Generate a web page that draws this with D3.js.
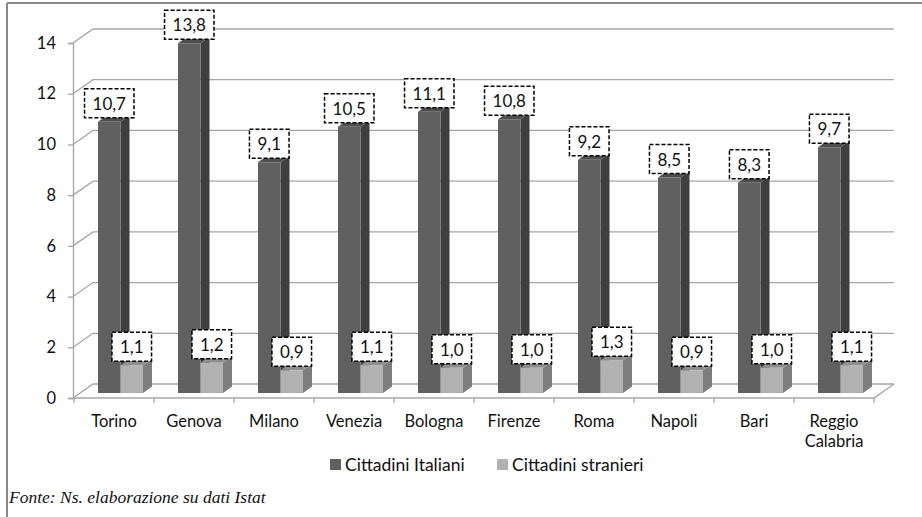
<!DOCTYPE html>
<html><head><meta charset="utf-8">
<script src="https://cdn.jsdelivr.net/npm/d3@7"></script>
<style>
html,body{margin:0;padding:0;background:#fff;}
svg{display:block;}
text{font-family:Lato,"Open Sans",sans-serif;}
</style></head>
<body>
<svg id="chart" width="922" height="517"></svg>
<script>
const categories = ["Torino","Genova","Milano","Venezia","Bologna","Firenze","Roma","Napoli","Bari","Reggio Calabria"];
const italiani = [10.7,13.8,9.1,10.5,11.1,10.8,9.2,8.5,8.3,9.7];
const stranieri = [1.1,1.2,0.9,1.1,1.0,1.0,1.3,0.9,1.0,1.1];
const seriesNames = ["Cittadini Italiani","Cittadini stranieri"];
const yTicks = [0,2,4,6,8,10,12,14];
const source = "Fonte: Ns. elaborazione su dati Istat";

const svg = d3.select("#chart");
const fmt = v => d3.format(".1f")(v).replace(".", ",");

// projection
const DX = 20, DY = -14;
const x = d3.scaleBand().domain(categories).range([74, 874]);
const y = d3.scaleLinear().domain([0, 14]).range([398, 43]);
const proj = (px, v, z) => [px + DX * z, y(v) + DY * z];

// frame
svg.append("line").attr("x1", 7).attr("x2", 922).attr("y1", 3).attr("y2", 3).attr("stroke", "#888").attr("stroke-width", 2);
svg.append("line").attr("x1", 7).attr("x2", 7).attr("y1", 3).attr("y2", 517).attr("stroke", "#888").attr("stroke-width", 2);

const gridColor = "#a6a6a6";
const x0 = x.range()[0] - 1, x1 = x.range()[1];
// back wall gridlines + side wall diagonals
yTicks.forEach(t => {
  const a = proj(x0, t, 0), b = proj(x0, t, 1), c = proj(x1, t, 1);
  svg.append("path").attr("d", `M${a[0]},${a[1]}L${b[0]},${b[1]}L${c[0]},${c[1]}`)
    .attr("fill", "none").attr("stroke", gridColor).attr("stroke-width", 1.3);
});
// floor front + right edge
{
  const a = proj(x0, 0, 0), b = proj(x1, 0, 0), c = proj(x1, 0, 1);
  svg.append("path").attr("d", `M${a[0]},${a[1]}L${b[0]},${b[1]}L${c[0]},${c[1]}`)
    .attr("fill", "none").attr("stroke", gridColor).attr("stroke-width", 1.3);
}

// y axis
const yAxis = svg.append("g").attr("transform", `translate(${x0},0)`)
  .call(d3.axisLeft(y).tickValues(yTicks).tickSize(5).tickPadding(12).tickFormat(d3.format("d")));
yAxis.select(".domain").attr("stroke", gridColor).attr("stroke-width", 1.3);
yAxis.selectAll(".tick line").attr("stroke", gridColor).attr("stroke-width", 1.3);
yAxis.selectAll("text").attr("font-size", 16.5).attr("fill", "#111").style("font-family", "Lato");

// x axis ticks
const xAxis = svg.append("g").attr("transform", `translate(0,${y(0)})`)
  .call(d3.axisBottom(x).tickSize(0).tickFormat(""));
xAxis.select(".domain").remove();
const tickXs = categories.map(c => x(c)).concat([x1]);
svg.selectAll(".ctick").data(tickXs).enter().append("line")
  .attr("x1", d => d).attr("x2", d => d).attr("y1", y(0)).attr("y2", y(0) + 5)
  .attr("stroke", gridColor).attr("stroke-width", 1.3);

// category labels
categories.forEach(c => {
  const words = c.split(" ");
  const cx = x(c) + x.bandwidth() / 2;
  const t = svg.append("text").attr("x", cx).attr("y", 427)
    .attr("text-anchor", "middle").attr("font-size", 16.5).attr("fill", "#111");
  words.forEach((w, i) => t.append("tspan").attr("x", cx).attr("dy", i === 0 ? 0 : 20).text(w));
});

// bars
const inner = d3.scaleBand().domain([0, 1]).range([x.bandwidth() / 2 - 23, x.bandwidth() / 2 + 22]).padding(0);
const Z0 = 0.35, Z1 = 0.8;
const colors = [
  {front: "#606060", side: "#3f3f3f", top: "#4e4e4e"},
  {front: "#b2b2b2", side: "#7e7e7e", top: "#8e8e8e"}
];
const poly = pts => "M" + pts.map(p => p.join(",")).join("L") + "Z";
const labels = [];
categories.forEach((c, i) => {
  [italiani[i], stranieri[i]].forEach((v, s) => {
    const xl = x(c) + inner(s), xr = xl + inner.bandwidth();
    const col = colors[s];
    const fbl = proj(xl, 0, Z0), fbr = proj(xr, 0, Z0), ftl = proj(xl, v, Z0), ftr = proj(xr, v, Z0);
    const bbr = proj(xr, 0, Z1), btl = proj(xl, v, Z1), btr = proj(xr, v, Z1);
    svg.append("path").attr("d", poly([fbr, bbr, btr, ftr])).attr("fill", col.side);
    svg.append("path").attr("d", poly([ftl, ftr, btr, btl])).attr("fill", col.top);
    svg.append("path").attr("d", poly([fbl, fbr, ftr, ftl])).attr("fill", col.front);
    labels.push({cx: (ftl[0] + ftr[0]) / 2, top: ftl[1], v: v});
  });
});

// data labels
labels.forEach(l => {
  const g = svg.append("g");
  const t = g.append("text").attr("x", l.cx).attr("y", l.top - 12).attr("text-anchor", "middle")
    .attr("font-size", 17).attr("fill", "#111").text(fmt(l.v));
  const w = t.node().getComputedTextLength() + 16;
  g.insert("rect", "text").attr("x", l.cx - w / 2).attr("y", l.top - 33).attr("width", w).attr("height", 29)
    .attr("fill", "#fff").attr("stroke", "#000").attr("stroke-width", 1.5).attr("stroke-dasharray", "4,2");
});

// legend
const legendX = [330, 497];
seriesNames.forEach((n, i) => {
  svg.append("rect").attr("x", legendX[i]).attr("y", 459).attr("width", 11).attr("height", 11).attr("fill", colors[i].front);
  svg.append("text").attr("x", legendX[i] + 15).attr("y", 471).attr("font-size", 17.5).attr("fill", "#111").text(n);
});

// source
svg.append("text").attr("x", 9).attr("y", 503).attr("font-size", 17.5).attr("font-style", "italic")
  .style("font-family", "'Liberation Serif','DejaVu Serif',serif").attr("fill", "#111").text(source);
</script>
</body></html>
